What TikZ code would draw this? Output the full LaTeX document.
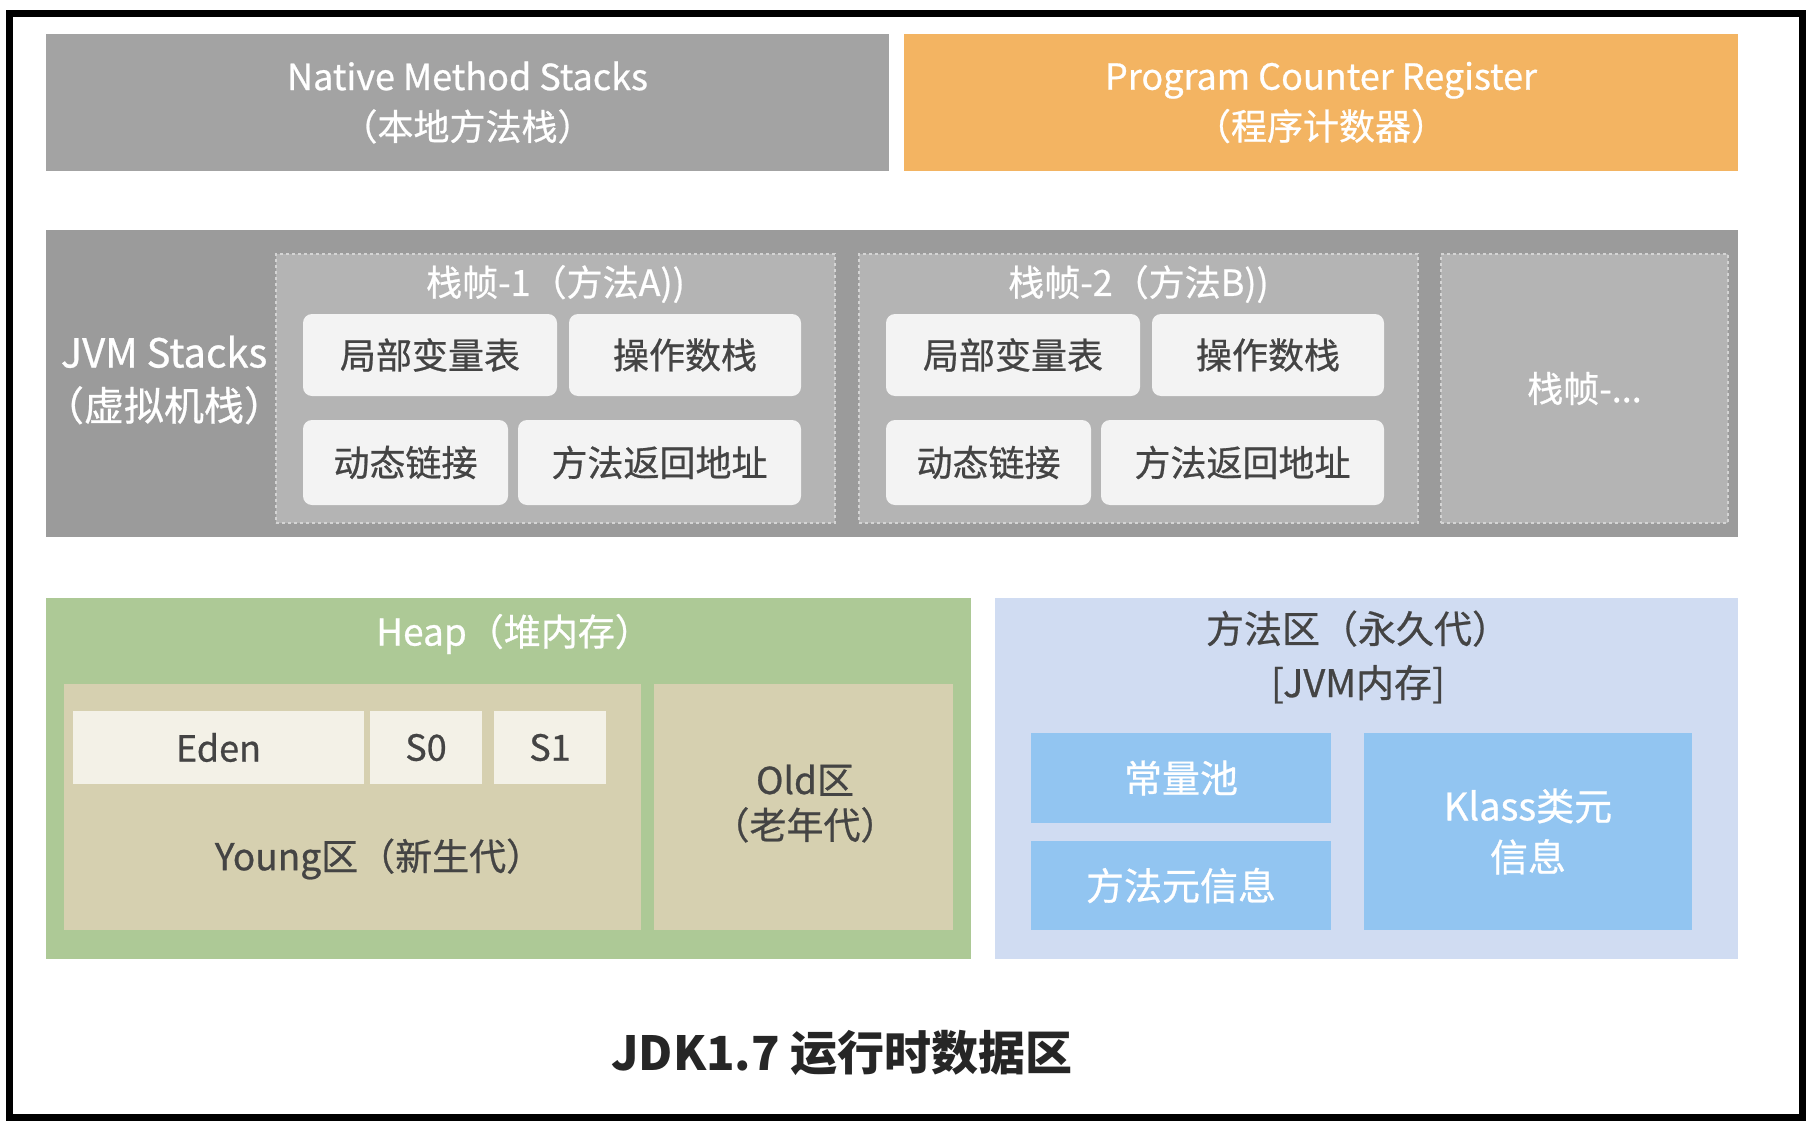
\documentclass[tikz,border=0pt]{standalone}
\usepackage{fontspec}
\setmainfont{Noto Sans CJK SC}[UprightFeatures={FakeBold=0.7}]
\definecolor{nmsgray}{HTML}{A3A3A3}
\definecolor{jvmgray}{HTML}{9B9B9B}
\definecolor{framegray}{HTML}{B4B4B4}
\definecolor{dotgray}{HTML}{D4D4D4}
\definecolor{cellwhite}{HTML}{F3F3F3}
\definecolor{pcrorange}{HTML}{F3B462}
\definecolor{heapgreen}{HTML}{ADC996}
\definecolor{youngtan}{HTML}{D6D0B0}
\definecolor{edencream}{HTML}{F3F1E7}
\definecolor{mablue}{HTML}{D0DCF2}
\definecolor{cellblue}{HTML}{92C5F1}
\definecolor{darktext}{HTML}{444444}
\begin{document}
\begin{tikzpicture}[x=1pt,y=-1pt,
  area/.style={inner sep=0pt,outer sep=0pt,anchor=center},
  frame/.style={area,fill=framegray,draw=dotgray,line width=2.5pt,dash pattern=on 3pt off 3pt},
  cell/.style={area,fill=cellwhite,rounded corners=9pt,text=darktext,font=\fontsize{36}{40}\selectfont},
  whitetext/.style={text=white,align=center},
  darklabel/.style={text=darktext,align=center}]
\useasboundingbox[fill=white] (0,0) rectangle (1816,1124);
\draw[line width=7pt] (9,14) rectangle (1802,1117);
% top row
\node[area,fill=nmsgray,minimum width=843,minimum height=137] (nms) at (467.5,102.5) {};
\node[whitetext,font=\fontsize{36}{50}\selectfont] at (nms) {Native Method Stacks\\（本地方法栈）};
\node[area,fill=pcrorange,minimum width=834,minimum height=137] (pcr) at (1321,102.5) {};
\node[whitetext,font=\fontsize{36}{50}\selectfont] at (pcr) {Program Counter Register\\（程序计数器）};
% jvm stacks
\node[area,fill=jvmgray,minimum width=1692,minimum height=307] (jvm) at (892,383.5) {};
\node[whitetext,font=\fontsize{40}{53}\selectfont] (jvmlabel) at (164,380) {JVM Stacks\\（虚拟机栈）};
\node[frame,minimum width=559,minimum height=269] (frame1) at (555.5,388.5) {};
\node[frame,minimum width=559,minimum height=269] (frame2) at (1138.5,388.5) {};
\node[frame,minimum width=287,minimum height=269] (frame3) at (1584.5,388.5) {};
\node[whitetext,font=\fontsize{36}{40}\selectfont] at (555.5,284) {栈帧-1（方法A))};
\node[whitetext,font=\fontsize{36}{40}\selectfont] at (1138.5,284) {栈帧-2（方法B))};
\node[whitetext,font=\fontsize{36}{40}\selectfont] at (frame3) {栈帧-...};
\node[cell,minimum width=254,minimum height=82] (lv1) at (430,355) {局部变量表};
\node[cell,minimum width=232,minimum height=82] (os1) at (685,355) {操作数栈};
\node[cell,minimum width=205,minimum height=85] (dl1) at (405.5,462.5) {动态链接};
\node[cell,minimum width=283,minimum height=85] (ra1) at (659.5,462.5) {方法返回地址};
\node[cell,minimum width=254,minimum height=82] (lv2) at (1013,355) {局部变量表};
\node[cell,minimum width=232,minimum height=82] (os2) at (1268,355) {操作数栈};
\node[cell,minimum width=205,minimum height=85] (dl2) at (988.5,462.5) {动态链接};
\node[cell,minimum width=283,minimum height=85] (ra2) at (1242.5,462.5) {方法返回地址};
% heap
\node[area,fill=heapgreen,minimum width=925,minimum height=361] (heap) at (508.5,778.5) {};
\node[whitetext,font=\fontsize{37}{40}\selectfont] at (514,634) {Heap（堆内存）};
\node[area,fill=youngtan,minimum width=577,minimum height=246] (young) at (352.5,807) {};
\node[area,fill=edencream,minimum width=291,minimum height=73,text=darktext,font=\fontsize{36}{40}\selectfont] (eden) at (218.5,747.5) {Eden};
\node[area,fill=edencream,minimum width=112,minimum height=73,text=darktext,font=\fontsize{36}{40}\selectfont] (s0) at (426,747.5) {S0};
\node[area,fill=edencream,minimum width=112,minimum height=73,text=darktext,font=\fontsize{36}{40}\selectfont] (s1) at (550,747.5) {S1};
\node[darklabel,font=\fontsize{37}{40}\selectfont] at (379,859) {Young区（新生代）};
\node[area,fill=youngtan,minimum width=299,minimum height=246] (old) at (803.5,807) {};
\node[darklabel,font=\fontsize{37}{45}\selectfont] at (805,803.5) {Old区\\（老年代）};
% method area
\node[area,fill=mablue,minimum width=743,minimum height=361] (ma) at (1366.5,778.5) {};
\node[darklabel,font=\fontsize{38}{54}\selectfont] at (1358,657) {方法区（永久代）\\{[}JVM内存]};
\node[area,fill=cellblue,minimum width=300,minimum height=90,text=white,font=\fontsize{38}{40}\selectfont] (cp) at (1181,778) {常量池};
\node[area,fill=cellblue,minimum width=300,minimum height=89,text=white,font=\fontsize{38}{40}\selectfont] (mm) at (1181,885.5) {方法元信息};
\node[area,fill=cellblue,minimum width=328,minimum height=197,text=white,align=center,font=\fontsize{38}{51}\selectfont] (klass) at (1528,831.5) {Klass类元\\信息};
% caption
\node[text=black!85,font=\bfseries\fontsize{47}{50}\selectfont] (caption) at (842,1053) {JDK1.7 运行时数据区};
\end{tikzpicture}
\end{document}
